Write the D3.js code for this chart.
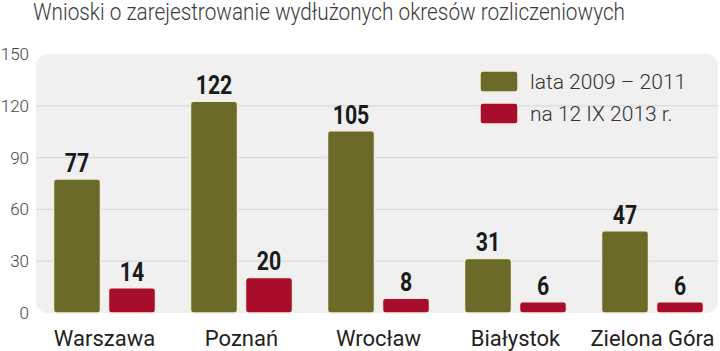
<!DOCTYPE html>
<html>
<head>
<meta charset="utf-8">
<script src="https://cdn.jsdelivr.net/npm/d3@7"></script>
<style>
  body { margin: 0; background: #fff; }
  svg { display: block; font-family: Roboto, "Liberation Sans", sans-serif; }
</style>
</head>
<body>
<svg id="drawing_region"></svg>
<script>
const cities = ["Warszawa", "Poznań", "Wrocław", "Białystok", "Zielona Góra"];
const series = ["lata 2009 – 2011", "na 12 IX 2013 r."];
const values2009 = [77, 122, 105, 31, 47];
const values2013 = [14, 20, 8, 6, 6];
const yTicks = [0, 30, 60, 90, 120, 150];
const colors = ["#6b6a29", "#a80d2c"];

const width = 720, height = 351;
const svg = d3.select('#drawing_region')
    .attr('width', width)
    .attr('height', height);

const x = d3.scaleBand().domain(cities).range([36, 721]);
const y = d3.scaleLinear().domain([0, 150]).range([313, 54]);
const barW = 47, gap = 8;
const inner = d3.scaleBand().domain([0, 1]).range([0, barW * 2 + gap]).paddingInner(gap / (barW + gap));
const groupOffset = (x.bandwidth() - (barW * 2 + gap)) / 2;

// title (condensed light face in the original)
svg.append('text')
    .attr('x', 33)
    .attr('y', 20)
    .attr('font-size', 23)
    .attr('font-weight', 300)
    .attr('fill', '#3a3a3a')
    .attr('textLength', 592)
    .attr('lengthAdjust', 'spacingAndGlyphs')
    .text("Wnioski o zarejestrowanie wydłużonych okresów rozliczeniowych");

// panel
svg.append('rect')
    .attr('x', 36)
    .attr('y', y(150))
    .attr('width', 682)
    .attr('height', y(0) - y(150))
    .attr('rx', 12)
    .attr('fill', '#f0f0f0');

// grid
svg.append('g')
    .selectAll('line')
    .data(yTicks.filter(d => d > 0 && d < 150))
    .join('line')
    .attr('x1', 36)
    .attr('x2', 718)
    .attr('y1', d => y(d))
    .attr('y2', d => y(d))
    .attr('stroke', '#d6d6d6')
    .attr('stroke-width', 1);

// y axis labels
svg.append('g')
    .selectAll('text')
    .data(yTicks)
    .join('text')
    .attr('x', 29)
    .attr('y', d => y(d) + 6)
    .attr('text-anchor', 'end')
    .attr('font-size', 17)
    .attr('font-weight', 300)
    .attr('fill', '#444')
    .text(d => d);

const rows = cities.map((c, i) => ({ city: c, vals: [values2009[i], values2013[i]] }));

const groups = svg.append('g')
    .selectAll('g')
    .data(rows)
    .join('g')
    .attr('transform', d => `translate(${x(d.city) + groupOffset},0)`);

groups.selectAll('rect')
    .data(d => d.vals)
    .join('rect')
    .attr('x', (d, i) => inner(i))
    .attr('y', d => y(d) - 1)
    .attr('width', barW)
    .attr('height', d => y(0) - y(d) + 1)
    .attr('rx', 3)
    .attr('fill', (d, i) => colors[i])
    .attr('stroke', '#f4efdc')
    .attr('stroke-width', 1.5);

groups.selectAll('text.val')
    .data(d => d.vals)
    .join('text')
    .attr('class', 'val')
    .attr('transform', (d, i) => `translate(${inner(i) + barW / 2},${y(d) - 8}) scale(0.82,1)`)
    .attr('text-anchor', 'middle')
    .attr('font-size', 26)
    .attr('font-weight', 'bold')
    .attr('fill', '#1a1a1a')
    .text(d => d);

// category labels
svg.append('g')
    .selectAll('text')
    .data(cities)
    .join('text')
    .attr('x', d => x(d) + x.bandwidth() / 2)
    .attr('y', 346)
    .attr('text-anchor', 'middle')
    .attr('font-size', 22)
    .attr('fill', '#222')
    .text(d => d);

// legend
const legend = svg.append('g')
    .selectAll('g')
    .data(series)
    .join('g')
    .attr('transform', (d, i) => `translate(480,${71 + i * 32})`);

legend.append('rect')
    .attr('width', 38)
    .attr('height', 21)
    .attr('rx', 3)
    .attr('fill', (d, i) => colors[i])
    .attr('stroke', '#f4efdc')
    .attr('stroke-width', 1.5);

legend.append('text')
    .attr('x', 50)
    .attr('y', 18)
    .attr('font-size', 21)
    .attr('font-weight', 300)
    .attr('fill', '#333')
    .text(d => d);
</script>
</body>
</html>
